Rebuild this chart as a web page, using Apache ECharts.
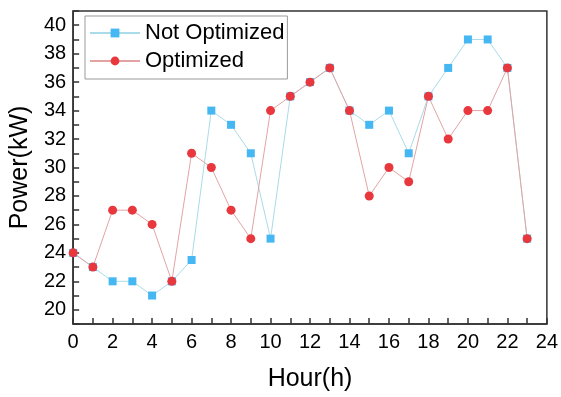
<!DOCTYPE html>
<html>
<head>
<meta charset="utf-8">
<script src="https://cdn.jsdelivr.net/npm/echarts@6/dist/echarts.min.js"></script>
<style>
  html, body { margin: 0; padding: 0; background: #fff; }
  #main { width: 561px; height: 397px; }
</style>
</head>
<body>
<div id="main"></div>
<script>
// hours 0..23
const hours = [0, 1, 2, 3, 4, 5, 6, 7, 8, 9, 10, 11, 12, 13, 14, 15, 16, 17, 18, 19, 20, 21, 22, 23]
const notOptimized = [24, 23, 22, 22, 21, 22, 23.5, 34, 33, 31, 25, 35, 36, 37, 34, 33, 34, 31, 35, 37, 39, 39, 37, 25]
const optimized = [24, 23, 27, 27, 26, 22, 31, 30, 27, 25, 34, 35, 36, 37, 34, 28, 30, 29, 35, 32, 34, 34, 37, 25]

const font = 'Liberation Sans, Arial, sans-serif'

function pairs(vals) {
  return hours.map((h, i) => [h, vals[i]])
}

let chart = echarts.init(document.getElementById('main'), null, { renderer: 'canvas' })

chart.setOption({
  animation: false,
  grid: {
    left: 73, right: 12, top: 11, bottom: 73,
    show: true, borderColor: '#333', borderWidth: 1.5
  },
  legend: {
    orient: 'vertical',
    left: 85, top: 16,
    padding: [6, 3, 7, 4],
    itemGap: 6,
    itemWidth: 50, itemHeight: 11,
    borderColor: '#999', borderWidth: 1,
    textStyle: { fontFamily: font, fontSize: 22, color: '#000' },
    data: ['Not Optimized', 'Optimized']
  },
  xAxis: {
    type: 'value', min: 0, max: 24, interval: 1,
    name: 'Hour(h)', nameLocation: 'middle', nameGap: 43,
    nameTextStyle: { fontFamily: font, fontSize: 25, color: '#000' },
    axisLine: { lineStyle: { color: '#333', width: 1.5 } },
    axisTick: { inside: true, length: 6, lineStyle: { color: '#333', width: 1.5 } },
    axisLabel: {
      fontFamily: font, fontSize: 20, color: '#000', margin: 8,
      formatter: v => (v % 2 === 0 ? String(v) : '')
    },
    splitLine: { show: false }
  },
  yAxis: {
    type: 'value', min: 19, max: 41, interval: 1,
    name: 'Power(kW)', nameLocation: 'middle', nameGap: 38,
    nameTextStyle: { fontFamily: font, fontSize: 25, color: '#000' },
    axisLine: { show: true, lineStyle: { color: '#333', width: 1.5 } },
    axisTick: { show: true, inside: true, length: 6, lineStyle: { color: '#333', width: 1.5 } },
    axisLabel: {
      fontFamily: font, fontSize: 20, color: '#000', margin: 7,
      formatter: v => (v % 2 === 0 && v <= 40 ? String(v) : '')
    },
    splitLine: { show: false }
  },
  series: [
    {
      name: 'Not Optimized',
      type: 'line',
      data: pairs(notOptimized),
      symbol: 'rect', symbolSize: 8,
      itemStyle: { color: '#45b7f2' },
      lineStyle: { color: '#a9dbe8', width: 1 }
    },
    {
      name: 'Optimized',
      type: 'line',
      data: pairs(optimized),
      symbol: 'circle', symbolSize: 9,
      itemStyle: { color: '#e8383d' },
      lineStyle: { color: '#e3a3a3', width: 1 }
    }
  ]
})
</script>
</body>
</html>
